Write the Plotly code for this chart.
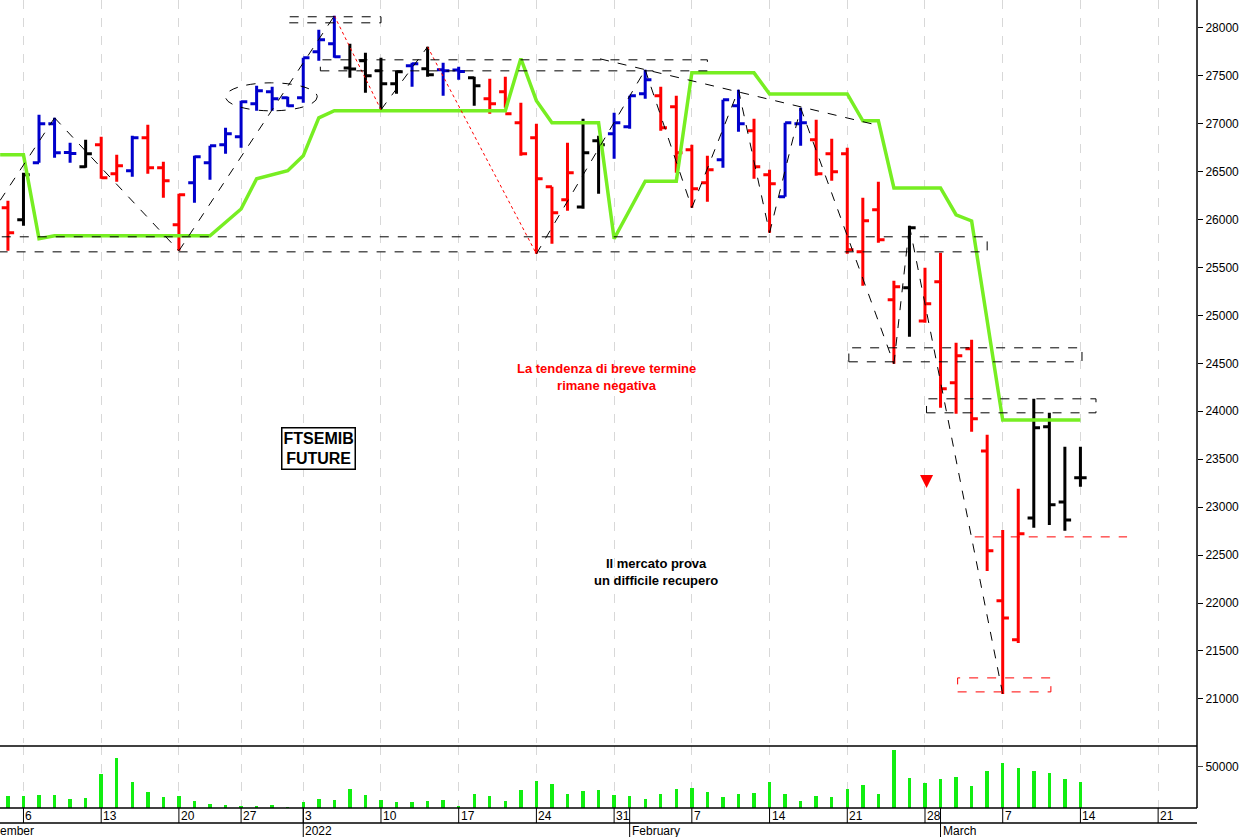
import plotly.graph_objects as go
import pandas as pd

# ---- data ----
holidays = ["2021-12-24", "2021-12-31"]
all_days = [d for d in pd.bdate_range("2021-12-03", "2022-03-25") if d.strftime("%Y-%m-%d") not in holidays]
dates = [d.strftime("%Y-%m-%d") for d in all_days]

opens  = [26122,25997,26592,27000,26700,26550,26780,26477,26508,26852,26540,25945,26383,26592,26780,26863,27207,27332,27270,27270,
          27750,27833,27580,27656,27551,27416,27604,27572,27562,27560,27478,27259,27332,27009,26852,26341,26206,26130,26821,26894,
          26967,27311,27290,27176,26727,26383,26623,27186,26925,26467,26237,27000,26832,26686,26686,25663,26101,25163,25288,24943,
          25350,24297,24651,23587,22023,21616,22888,23838,23055,23306]
highs  = [26195,26487,27092,27061,26800,26832,26863,26675,26873,26988,26602,26268,26665,26769,26957,27238,27395,27384,27280,27687,
          27979,28125,27833,27739,27687,27551,27635,27802,27635,27593,27489,27468,27489,27218,27000,26341,26800,27051,26873,27113,
          27290,27562,27384,27290,26780,26665,27249,27353,27051,26519,27009,27165,27040,26842,26748,26227,26393,25361,25934,25496,
          25653,24714,24745,23754,22763,23191,24130,23984,23629,23629]
lows   = [25674,25934,26592,26644,26592,26540,26425,26394,26446,26477,26227,25674,26174,26414,26686,26748,27134,27134,27176,27218,
          27656,27687,27478,27322,27145,27311,27384,27489,27290,27458,27186,27103,27165,26665,25642,25747,26091,26112,26268,26633,
          26946,27259,26925,26487,26122,26185,26540,26915,26425,25861,26237,26769,26456,26404,25642,25309,25757,24495,24777,24923,
          24036,23973,23786,22335,21052,21584,22784,22815,22753,23212]
closes = [25861,26466,27000,26696,26690,26686,26435,26560,26852,26540,26404,26258,26654,26769,26894,27228,27343,27259,27186,27687,
          27875,27697,27570,27499,27416,27541,27624,27510,27551,27545,27395,27207,27103,26686,26425,26070,26487,26696,26780,27009,
          27290,27458,26957,26696,26320,26519,27249,27000,26550,26373,27009,27010,26477,26498,25684,25987,25788,25298,25914,25121,
          24234,24578,23921,22544,21845,22722,23827,23024,22867,23306]
bar_colors = list("RKBBBKRRBRRRBBBBBBBBBBKKKKBKBBKRRRRRRKKBBBRRRRBBRRBBRRRRRRKRRRRRRRKKKK")
volume = [14300,14300,16200,15500,11300,12200,40600,60100,31700,19200,13400,15000,8900,5200,4000,1600,2800,3300,900,7700,
          11300,10100,22300,16200,10100,7700,7700,8900,10100,2100,17100,14300,8900,21100,32600,28400,17400,20400,21100,16200,
          15000,11400,16300,22400,24400,19100,13400,17100,17500,31300,17100,8900,15000,13400,22800,27700,17100,69100,35800,30100,
          34600,37400,26400,44300,54500,48000,44300,42300,34600,31300]
# trailing stop line (bar index, value)
stop_x = [-0.5, 1, 2, 3, 13, 15, 16, 18, 19, 20, 21, 32, 33, 34, 35, 38, 39, 41, 43, 44, 48, 49, 54, 55, 56, 57, 60, 61, 62, 64, 69]
stop_y = [26675,26675,25800,25830,25830,26110,26425,26510,26665,27060,27135,27135,27680,27240,27010,27010,25800,26400,26400,27530,27530,27310,27310,27030,27030,26330,26330,26050,25985,23910,23910]
# swing zigzag (bar index, value, segment style to next)
zig_x = [-0.5, 3, 11, 21, 24, 27, 34, 41, 44, 47, 49, 51, 57, 58, 64]
zig_y = [26200, 27061, 25674, 28125, 27145, 27802, 25642, 27562, 26122, 27353, 25861, 27165, 24495, 25934, 21052]
zig_red = [False, False, False, True, False, True, False, False, False, False, False, False, False, False]
trend_x = [38.1, 56.1]
trend_y = [27676, 26978]
# dashed boxes: x0, x1, y0, y1, colour
boxes = [(18.1, 24.0, 28052, 28115, "black"), (20.1, 45.0, 27551, 27666, "black"),
         (-0.6, 63.0, 25663, 25820, "black"), (54.1, 69.1, 24516, 24662, "black"),
         (59.1, 70.0, 23984, 24130, "black"), (61.1, 67.1, 21073, 21219, "red")]
support_line = (62.2, 72.0, 22690)
ellipse = (14.0, 19.9, 27134, 27426)
arrow_pt = (59.1, 23200)
week_ticks = ["2021-12-06","2021-12-13","2021-12-20","2021-12-27","2022-01-03","2022-01-10","2022-01-17","2022-01-24",
              "2022-01-31","2022-02-07","2022-02-14","2022-02-21","2022-02-28","2022-03-07","2022-03-14","2022-03-21"]
week_labels = ["6","13","20","27","3","10","17","24","31","7","14","21","28","7","14","21"]
months = [("2021-12-03", "ember"), ("2022-01-03", "2022"), ("2022-02-01", "February"), ("2022-03-01", "March")]

idx = {d: i for i, d in enumerate(dates)}
N = len(opens)
XR = [-0.51, 76.5]

fig = go.Figure()
cmap = {"R": "#ff0000", "B": "#0000cc", "K": "#000000"}
for code, col in cmap.items():
    ii = [i for i in range(N) if bar_colors[i] == code]
    fig.add_trace(go.Ohlc(x=ii, open=[opens[i] for i in ii], high=[highs[i] for i in ii],
                          low=[lows[i] for i in ii], close=[closes[i] for i in ii], tickwidth=0.4,
                          increasing=dict(line=dict(color=col, width=3)),
                          decreasing=dict(line=dict(color=col, width=3)),
                          xaxis="x", yaxis="y", showlegend=False, hoverinfo="skip"))

fig.add_trace(go.Scatter(x=stop_x, y=stop_y, mode="lines", line=dict(color="#77ee22", width=3.5),
                         xaxis="x", yaxis="y", showlegend=False))
for k in range(len(zig_x) - 1):
    red = zig_red[k]
    fig.add_trace(go.Scatter(x=zig_x[k:k+2], y=zig_y[k:k+2], mode="lines",
                             line=dict(color="red" if red else "black", width=1, dash="dot" if red else "dash"),
                             xaxis="x", yaxis="y", showlegend=False))
fig.add_trace(go.Scatter(x=trend_x, y=trend_y, mode="lines", line=dict(color="black", width=1, dash="dash"),
                         xaxis="x", yaxis="y", showlegend=False))
fig.add_trace(go.Scatter(x=[arrow_pt[0]], y=[arrow_pt[1]], mode="markers",
                         marker=dict(symbol="arrow-down", size=13, color="red"),
                         xaxis="x", yaxis="y", showlegend=False))
fig.add_trace(go.Bar(x=list(range(N)), y=volume, marker=dict(color="#11ee11", line=dict(width=0)),
                     width=0.22, xaxis="x2", yaxis="y2", showlegend=False))

Y_VTOP = (837 - 746) / 837
Y_AX = (837 - 808) / 837
Y_STRIP = (837 - 823) / 837

shapes = []
for x0, x1, y0, y1, c in boxes:
    shapes.append(dict(type="rect", xref="x", yref="y", x0=x0, x1=x1, y0=y0, y1=y1,
                       line=dict(color=c, width=1, dash="dash")))
shapes.append(dict(type="line", xref="x", yref="y", x0=support_line[0], x1=support_line[1],
                   y0=support_line[2], y1=support_line[2], line=dict(color="red", width=1, dash="dash")))
shapes.append(dict(type="circle", xref="x", yref="y", x0=ellipse[0], x1=ellipse[1], y0=ellipse[2], y1=ellipse[3],
                   line=dict(color="black", width=1, dash="dash")))
for yy in (Y_VTOP, Y_AX, Y_STRIP):
    shapes.append(dict(type="line", xref="paper", yref="paper", x0=0, x1=1, y0=yy, y1=yy, line=dict(color="black", width=1.5)))
shapes.append(dict(type="line", xref="paper", yref="paper", x0=1, x1=1, y0=Y_AX, y1=1, line=dict(color="black", width=1.5)))

annotations = []
for d, lab in zip(week_ticks, week_labels):
    xi = idx[d]
    shapes.append(dict(type="line", xref="x", yref="paper", x0=xi, x1=xi, y0=Y_STRIP, y1=Y_AX, line=dict(color="black", width=1)))
    annotations.append(dict(x=xi, y=Y_AX, xref="x", yref="paper", text=lab, showarrow=False,
                            xanchor="left", yanchor="top", xshift=0, yshift=1, font=dict(size=12, color="black")))
for d, lab in months:
    xi = idx[d]
    if lab != "ember":
        shapes.append(dict(type="line", xref="x", yref="paper", x0=xi, x1=xi, y0=0, y1=Y_AX, line=dict(color="black", width=1)))
    annotations.append(dict(x=xi if lab != "ember" else XR[0], y=Y_STRIP, xref="x", yref="paper", text=lab, showarrow=False,
                            xanchor="left", yanchor="top", xshift=(0 if lab != "ember" else -2), yshift=1,
                            font=dict(size=12, color="black")))

annotations.append(dict(x=38.5, y=24360, xref="x", yref="y", text="<b>La tendenza di breve termine<br>rimane negativa</b>",
                        showarrow=False, font=dict(size=13, color="red", family="Liberation Sans")))
annotations.append(dict(x=41.7, y=22320, xref="x", yref="y", text="<b>Il mercato prova<br>un difficile recupero</b>",
                        showarrow=False, font=dict(size=13, color="black", family="Liberation Sans")))
annotations.append(dict(x=20.0, y=23610, xref="x", yref="y", text="<b>FTSEMIB<br>FUTURE</b>",
                        showarrow=False, bordercolor="black", borderwidth=1.5, borderpad=1, bgcolor="white",
                        font=dict(size=16, color="black", family="Liberation Sans")))

tickvals_x = [idx[d] for d in week_ticks]
fig.update_layout(
    width=1247, height=837, margin=dict(l=0, r=50, t=0, b=0, autoexpand=False),
    paper_bgcolor="white", plot_bgcolor="white",
    font=dict(family="Liberation Sans", size=12, color="black"),
    xaxis=dict(domain=[0, 1], range=XR, tickvals=tickvals_x, showticklabels=False, showgrid=True,
               gridcolor="#d8d8d8", griddash="dash", gridwidth=1, zeroline=False, rangeslider=dict(visible=False),
               anchor="y"),
    xaxis2=dict(domain=[0, 1], range=XR, tickvals=tickvals_x, showticklabels=False, showgrid=True,
                gridcolor="#d8d8d8", griddash="dash", zeroline=False, matches="x", anchor="y2"),
    yaxis=dict(domain=[(837 - 743) / 837, 1], range=[20540, 28290], side="right", tickvals=list(range(21000, 28001, 500)),
               tickformat="d", ticks="outside", ticklen=5, tickcolor="black", showgrid=False, zeroline=False,
               tickfont=dict(size=12)),
    yaxis2=dict(domain=[Y_AX, Y_VTOP], range=[0, 74400], side="right", tickvals=[50000], tickformat="d", ticks="outside",
                ticklen=5, showgrid=False, zeroline=False, tickfont=dict(size=12)),
    shapes=shapes, annotations=annotations, bargap=0,
)
fig.write_html("out.html", config={"displayModeBar": False},
               post_script="document.body.style.margin='0';document.body.style.overflow='hidden';")
